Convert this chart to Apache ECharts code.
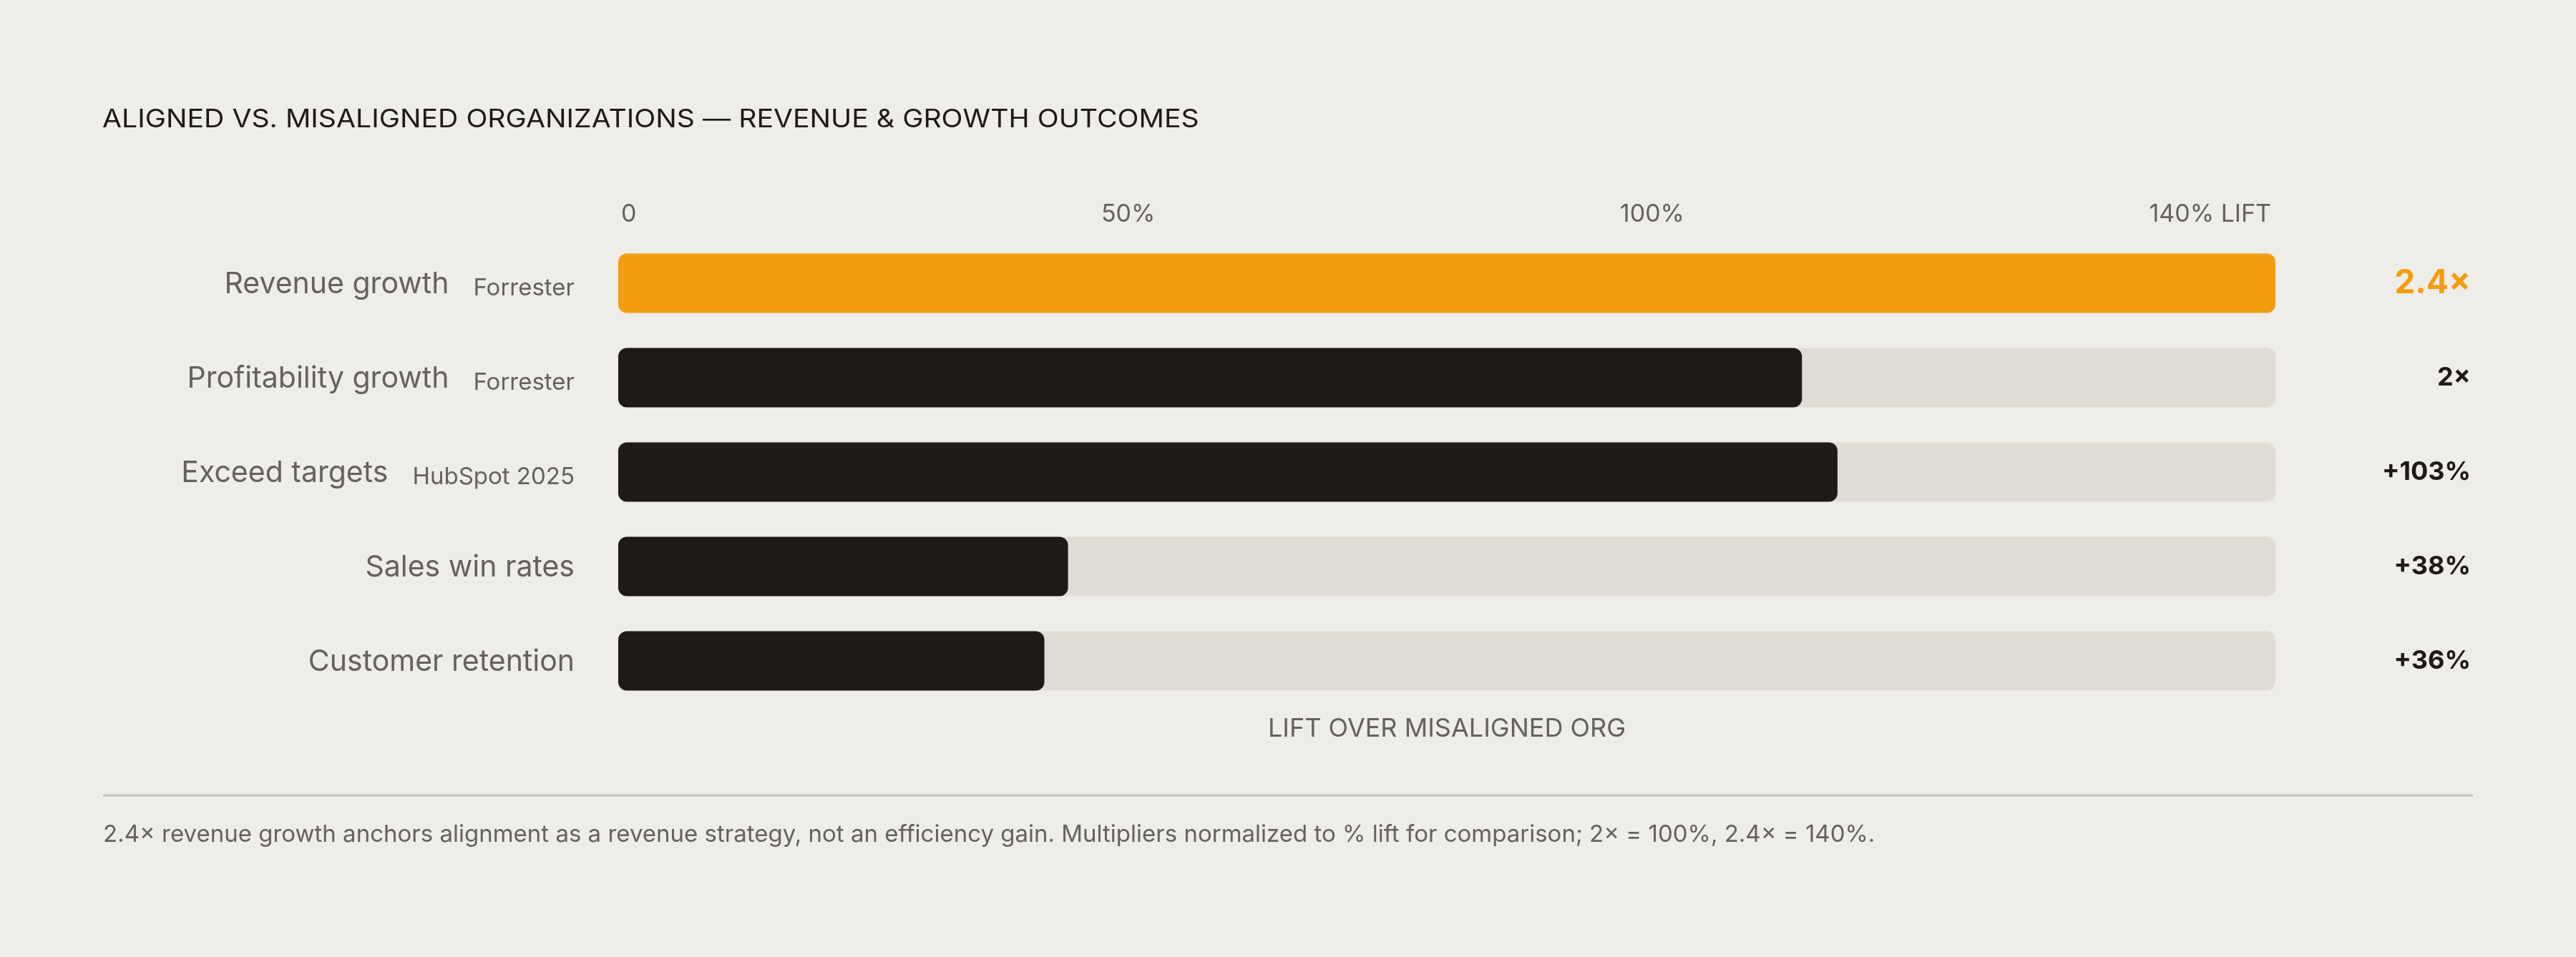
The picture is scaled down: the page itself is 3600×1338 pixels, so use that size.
<!DOCTYPE html>
<html>
<head>
<meta charset="utf-8">
<title>Aligned vs. misaligned organizations</title>
<script src="https://cdn.jsdelivr.net/npm/echarts@6/dist/echarts.min.js"></script>
<style>
  html, body { margin: 0; padding: 0; background: #eeede8; }
  #chart { width: 3600px; height: 1338px; }
</style>
</head>
<body>
<div id="chart"></div>
<script>
// data
const categories = ["Revenue growth", "Profitability growth", "Exceed targets", "Sales win rates", "Customer retention"];
const sources = ["Forrester", "Forrester", "HubSpot 2025", "", ""];
const liftValues = [140, 100, 103, 38, 36];
const valueLabels = ["2.4×", "2×", "+103%", "+38%", "+36%"];
const tickLabels = ["0", "50%", "100%", "140% LIFT"];
const axisMax = 140;

const FONT = "Inter, 'Noto Sans', sans-serif";
const INK = "#1e1a17";
const MUTED = "#65625d";
const ORANGE = "#f39c0f";
const TRACK = "#e0ddd7";

const grid = { left: 864, right: 420, top: 330, bottom: 348 };

/**
 * measure a string with the canvas, used to spread the tick row
 */
function textWidth(str, size) {
	const ctx = document.createElement("canvas").getContext("2d");
	ctx.font = size + "px " + FONT;
	return ctx.measureText(str).width;
}

// tick row: first label at the left end, last at the right end, rest spread evenly
const tickSize = 34;
const tickLeft = grid.left + 4;
const tickRight = 3600 - grid.right - 6;
const tickWidths = tickLabels.map(t => textWidth(t, tickSize));
const tickGap = (tickRight - tickLeft - tickWidths.reduce((a, b) => a + b, 0)) / (tickLabels.length - 1);
let cursor = tickLeft;
const tickTexts = tickLabels.map((t, i) => {
	const el = {
		type: "text",
		x: cursor,
		y: 300,
		style: {
			text: t,
			fontFamily: FONT,
			fontSize: tickSize,
			fill: MUTED,
			align: "left",
			verticalAlign: "middle",
			textAlign: "left",
			textVerticalAlign: "middle"
		}
	};
	cursor += tickWidths[i] + tickGap;
	return el;
});

const chart = echarts.init(document.getElementById("chart"));

chart.setOption({
	backgroundColor: "#eeede8",
	animation: false,
	grid: grid,
	xAxis: {
		type: "value",
		min: 0,
		max: axisMax,
		axisLine: { show: false },
		axisTick: { show: false },
		axisLabel: { show: false },
		splitLine: { show: false },
		name: "LIFT OVER MISALIGNED ORG",
		nameLocation: "middle",
		nameGap: 11,
		nameTextStyle: { fontFamily: FONT, fontSize: 36, color: MUTED, verticalAlign: "top" }
	},
	yAxis: {
		type: "category",
		data: categories,
		inverse: true,
		axisLine: { show: false },
		axisTick: { show: false },
		axisLabel: {
			margin: 61,
			formatter: (v, i) => (sources[i] ? `{m|${v}}{s|${sources[i]}}` : `{m|${v}}`),
			rich: {
				m: { fontFamily: FONT, fontSize: 41, color: MUTED, verticalAlign: "bottom", padding: [0, 0, -4, 0] },
				s: { fontFamily: FONT, fontSize: 33, color: MUTED, verticalAlign: "bottom", padding: [0, 0, -5, 34] }
			}
		}
	},
	series: [
		{
			// grey track, also carries the value labels on the right
			type: "bar",
			silent: true,
			barWidth: 83,
			barGap: "-100%",
			data: liftValues.map(() => axisMax),
			itemStyle: { color: TRACK, borderRadius: 12 },
			label: {
				show: true,
				position: "insideRight",
				distance: 0,
				offset: [273, 0],
				formatter: p => (p.dataIndex === 0 ? `{hi|${valueLabels[0]}}` : `{v|${valueLabels[p.dataIndex]}}`),
				rich: {
					hi: { fontFamily: FONT, fontSize: 46, fontWeight: 700, color: ORANGE },
					v: { fontFamily: FONT, fontSize: 36, fontWeight: 700, color: INK }
				}
			},
			z: 1
		},
		{
			type: "bar",
			barWidth: 83,
			barGap: "-100%",
			data: liftValues.map((v, i) => ({
				value: v,
				itemStyle: { color: i === 0 ? ORANGE : INK }
			})),
			itemStyle: { borderRadius: 12 },
			z: 2
		}
	],
	graphic: [
		{
			// title, stretched a little to stand in for the tracked-out caps
			type: "text",
			x: 143,
			y: 167,
			scaleX: 1.12,
			style: {
				text: "ALIGNED VS. MISALIGNED ORGANIZATIONS — REVENUE & GROWTH OUTCOMES",
				fontFamily: FONT,
				fontSize: 35,
				fill: INK,
				align: "left",
				verticalAlign: "middle",
				textAlign: "left",
				textVerticalAlign: "middle"
			}
		},
		...tickTexts,
		{
			type: "line",
			shape: { x1: 144, y1: 1112, x2: 3456, y2: 1112 },
			style: { stroke: "#c4c2bc", lineWidth: 3 }
		},
		{
			type: "text",
			x: 144,
			y: 1167,
			style: {
				text: "2.4× revenue growth anchors alignment as a revenue strategy, not an efficiency gain. Multipliers normalized to % lift for comparison; 2× = 100%, 2.4× = 140%.",
				fontFamily: FONT,
				fontSize: 33,
				fill: MUTED,
				align: "left",
				verticalAlign: "middle",
				textAlign: "left",
				textVerticalAlign: "middle"
			}
		}
	]
});
</script>
</body>
</html>
